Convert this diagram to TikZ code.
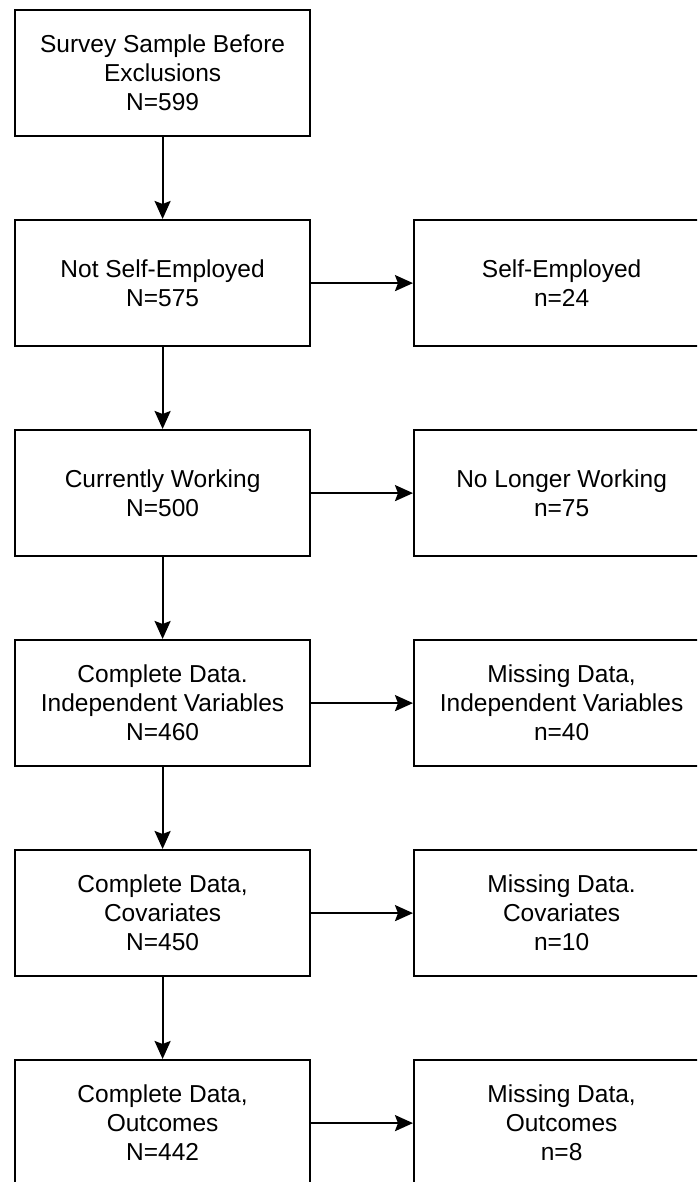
\documentclass[tikz,border=0pt]{standalone}
\usepackage{fontspec}
\setmainfont{Liberation Sans}
\usetikzlibrary{arrows.meta,positioning}
\begin{document}
\begin{tikzpicture}[x=1pt,y=-1pt,
  flowbox/.style={draw=black,line width=2.2pt,minimum width=295pt,minimum height=126pt,
    inner sep=0pt,align=center,anchor=north west,
    font=\fontsize{24.5}{29}\selectfont},
  flowarrow/.style={line width=2.2pt,-{Stealth[length=18pt,width=16pt,inset=3pt]}}]
\useasboundingbox (0,0) rectangle (697,1182);
\clip (0,0) rectangle (697,1182);
\node[flowbox] (a) at (14,9) {Survey Sample Before\\Exclusions\\N=599};
\node[flowbox] (b) at (14,219) {Not Self-Employed\\N=575};
\node[flowbox] (c) at (14,429) {Currently Working\\N=500};
\node[flowbox] (d) at (14,639) {Complete Data.\\Independent Variables\\N=460};
\node[flowbox] (e) at (14,849) {Complete Data,\\Covariates\\N=450};
\node[flowbox] (f) at (14,1059) {Complete Data,\\Outcomes\\N=442};
\node[flowbox] (b2) at (413,219) {Self-Employed\\n=24};
\node[flowbox] (c2) at (413,429) {No Longer Working\\n=75};
\node[flowbox] (d2) at (413,639) {Missing Data,\\Independent Variables\\n=40};
\node[flowbox] (e2) at (413,849) {Missing Data.\\Covariates\\n=10};
\node[flowbox] (f2) at (413,1059) {Missing Data,\\Outcomes\\n=8};
\draw[flowarrow] (a) -- (b);
\draw[flowarrow] (b) -- (c);
\draw[flowarrow] (c) -- (d);
\draw[flowarrow] (d) -- (e);
\draw[flowarrow] (e) -- (f);
\draw[flowarrow] (b) -- (b2);
\draw[flowarrow] (c) -- (c2);
\draw[flowarrow] (d) -- (d2);
\draw[flowarrow] (e) -- (e2);
\draw[flowarrow] (f) -- (f2);
\end{tikzpicture}
\end{document}
